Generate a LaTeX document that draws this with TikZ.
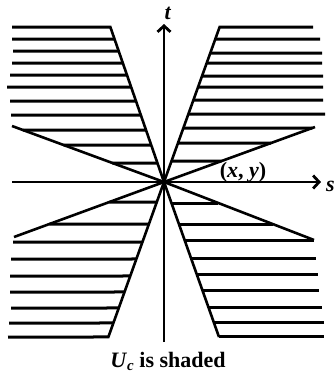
\documentclass[tikz,border=0pt]{standalone}
\usepackage{fontspec}
\setmainfont{Liberation Serif}
\usetikzlibrary{arrows.meta}
\begin{document}
\begin{tikzpicture}[x=1pt,y=-1pt,
  hatch/.style={line width=3pt},
  edge/.style={line width=2.6pt},
  axis/.style={line width=2.8pt,-{Straight Barb[length=6pt,width=13pt]}},
  lbl/.style={font=\fontsize{22}{26}\selectfont\bfseries,inner sep=0pt,anchor=base}]
\useasboundingbox (0,0) rectangle (334,378);
% key points
\coordinate (O) at (164,182);
\coordinate (UL) at (110,26);
\coordinate (LR) at (219,337);
\coordinate (UR) at (220,26);
\coordinate (LL) at (108,338);
\coordinate (SUL) at (12,126);
\coordinate (SLR) at (314,240);
\coordinate (SUR) at (315,127);
\coordinate (SLL) at (14,237);
% upper-left hatching
\foreach \y/\l in {27/12,39/12,51/13,63/12,75/10,87/7,101/10,115/11}
  \draw[hatch] (\l,\y) -- (intersection of UL--O and 0,\y--1,\y);
\foreach \y in {130,145,163}
  \draw[hatch] (intersection of SUL--O and 0,\y--1,\y) -- (intersection of UL--O and 0,\y--1,\y);
% upper-right hatching
\foreach \y/\r in {27/313,39/320,53/322,63/322,76/323,87/323,100/323,114/325}
  \draw[hatch] (intersection of UR--O and 0,\y--1,\y) -- (\r,\y);
\foreach \y in {128,143,161}
  \draw[hatch] (intersection of UR--O and 0,\y--1,\y) -- (intersection of SUR--O and 0,\y--1,\y);
% lower-left hatching
\foreach \y in {202,224}
  \draw[hatch] (intersection of SLL--O and 0,\y--1,\y) -- (intersection of LL--O and 0,\y--1,\y);
\foreach \y/\l in {242/13,259/11,276/10,292/10,308/11,323/9,337/8}
  \draw[hatch] (\l,\y) -- (intersection of LL--O and 0,\y--1,\y);
% lower-right hatching
\foreach \y in {203,224}
  \draw[hatch] (intersection of LR--O and 0,\y--1,\y) -- (intersection of SLR--O and 0,\y--1,\y);
\foreach \y/\r in {240/314,258/316,274/318,290/319,307/322,322/324,336/324}
  \draw[hatch] (intersection of LR--O and 0,\y--1,\y) -- (\r,\y);
% boundary lines
\draw[edge] (UL) -- (O) -- (LR);
\draw[edge] (UR) -- (O) -- (LL);
\draw[edge] (SUL) -- (O) -- (SLR);
\draw[edge] (SUR) -- (O) -- (SLL);
% axes
\coordinate (tbot) at (164,342);
\coordinate (ttop) at (164,24);
\coordinate (sleft) at (12,182);
\coordinate (sright) at (321,182);
\draw[axis] (tbot) -- (ttop);
\draw[axis] (sleft) -- (sright);
% labels
\node[lbl] (tlab) at (168,19) {\textit{t}};
\node[lbl,anchor=base west] (slab) at (326,191) {\textit{s}};
\node[lbl] (xy) at (243,177) {(\textit{x}, \textit{y})};
\node[lbl] (cap) at (168,367) {\textit{U}\raisebox{-0.3ex}{\fontsize{15}{15}\selectfont\bfseries\textit{c}} is shaded};
\end{tikzpicture}
\end{document}
